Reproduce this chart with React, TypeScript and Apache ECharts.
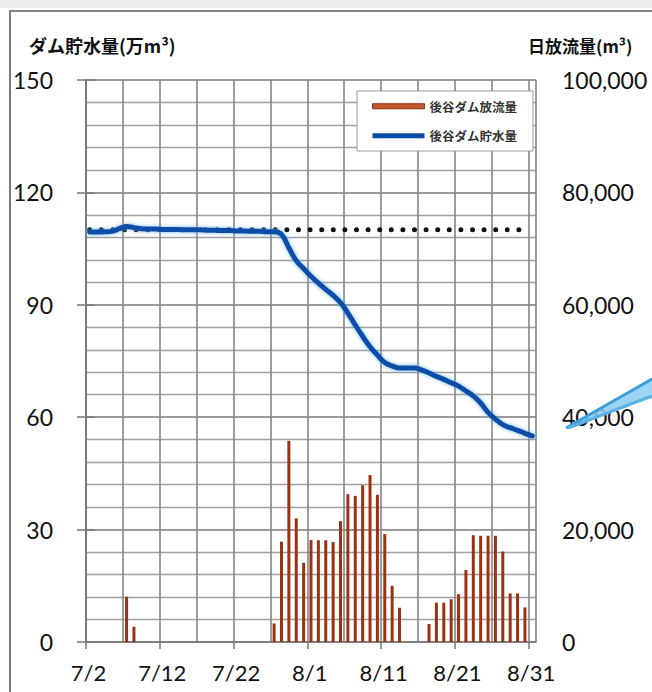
import React, { useEffect, useRef } from "react";
import * as echarts from "echarts";

// Day index 0 = 7/2 ... 60 = 8/31
const xTickLabels = ["7/2", "7/12", "7/22", "8/1", "8/11", "8/21", "8/31"];

// 後谷ダム貯水量 (万m³), one value per day 7/2 .. 8/31
const storage = [
  109.4, 109.4, 109.5, 109.6, 110.3, 110.9, 110.6, 110.3, 110.2, 110.2,
  110.1, 110.1, 110.1, 110.0, 110.0, 110.0, 109.9, 109.9, 109.8, 109.8,
  109.7, 109.7, 109.6, 109.6, 109.5, 109.5, 108.8, 105.2, 101.8, 99.7,
  97.6, 95.8, 94.1, 92.5, 90.6, 87.8, 84.6, 81.6, 78.8, 76.6,
  74.6, 73.7, 73.1, 73.1, 73.1, 72.6, 71.8, 70.9, 70.1, 69.2,
  68.3, 67.0, 65.7, 63.8, 61.3, 59.5, 58.0, 57.2, 56.5, 55.7,
  55.0,
];

// 後谷ダム放流量 (m³/day), one value per day 7/2 .. 8/31
const outflow = [
  0, 0, 0, 0, 0, 8050, 2700, 0, 0, 0,
  0, 0, 0, 0, 0, 0, 0, 0, 0, 0,
  0, 0, 0, 0, 0, 3300, 17850, 35800, 22000, 14100,
  18150, 18100, 18100, 17800, 21500, 26300, 26000, 27900, 29700, 26200,
  19200, 10000, 6100, 0, 0, 0, 3200, 7000, 7000, 7600,
  8500, 12800, 19000, 18900, 18900, 18900, 16100, 8650, 8650, 6150,
  0,
];

// Reference level (dotted line), 万m³
const referenceLevel = 110;
const referenceSpan = [0.5, 60];

const leftTitle = "ダム貯水量(万m³)";
const rightTitle = "日放流量(m³)";
const barName = "後谷ダム放流量";
const lineName = "後谷ダム貯水量";

const NUM_FONT = 'Lato, "Liberation Sans", sans-serif';
const JP_FONT = '"Noto Sans CJK JP", sans-serif';

export default function App() {
  const ref = useRef<HTMLDivElement>(null);

  useEffect(() => {
    const chart = echarts.init(ref.current!, null, { renderer: "svg" });

    const barData = outflow.map((v, k) => [k + 0.5, v]);
    const lineData = storage.map((v, k) => [k + 0.5, v]);
    const refData = referenceSpan.map((x) => [x, referenceLevel]);

    const option = {
      animation: false,
      backgroundColor: "#ffffff",
      grid: { left: 86, right: 116, top: 80, bottom: 50, containLabel: false },
      legend: {
        left: 357,
        top: 91,
        orient: "vertical",
        backgroundColor: "#ffffff",
        borderColor: "#9a9a9a",
        borderWidth: 1,
        padding: [9, 16, 9, 15],
        itemGap: 17,
        itemWidth: 52,
        itemHeight: 5,
        textStyle: { fontFamily: JP_FONT, fontSize: 12.5, fontWeight: "bold", color: "#333" },
        data: [
          { name: barName, icon: "rect", itemStyle: { color: "#c0582c", borderColor: "#8f2d10", borderWidth: 1 } },
          { name: lineName, icon: "rect", itemStyle: { color: "#0b4ea8", borderWidth: 0 } },
        ],
        z: 10,
      },
      xAxis: [
        {
          type: "value",
          min: 0,
          max: 61,
          interval: 10,
          position: "bottom",
          axisLine: { show: true, lineStyle: { color: "#777", width: 1.5 } },
          axisTick: { show: true, length: 7, lineStyle: { color: "#777", width: 1.5 } },
          axisLabel: {
            show: true,
            showMaxLabel: false,
            margin: 19,
            padding: [0, 0, 0, 5],
            fontFamily: NUM_FONT,
            fontSize: 22,
            color: "#111",
            formatter: (v: number) => (v % 10 === 0 && v / 10 < xTickLabels.length ? xTickLabels[v / 10] : ""),
          },
          splitLine: { show: false },
        },
        {
          type: "value",
          min: 0,
          max: 61,
          interval: 5,
          position: "bottom",
          axisLine: { show: false },
          axisTick: { show: false },
          axisLabel: { show: false },
          splitLine: { show: true, lineStyle: { color: "#858585", width: 1.6 } },
        },
      ],
      yAxis: [
        {
          type: "value",
          min: 0,
          max: 150,
          interval: 30,
          position: "left",
          axisLine: { show: true, lineStyle: { color: "#777", width: 1.5 } },
          axisTick: { show: true, length: 9, lineStyle: { color: "#777", width: 1.5 } },
          axisLabel: { margin: 33, fontFamily: NUM_FONT, fontSize: 23, color: "#111" },
          splitLine: { show: true, lineStyle: { color: "#7a7a7a", width: 1.7 } },
          minorTick: { show: false, splitNumber: 5 },
          minorSplitLine: { show: true, lineStyle: { color: "#a0a0a0", width: 1.3 } },
        },
        {
          type: "value",
          min: 0,
          max: 100000,
          interval: 20000,
          position: "right",
          axisLine: { show: true, lineStyle: { color: "#777", width: 1.5 } },
          axisTick: { show: true, length: 9, lineStyle: { color: "#777", width: 1.5 } },
          axisLabel: {
            margin: 26,
            fontFamily: NUM_FONT,
            fontSize: 23,
            color: "#111",
            formatter: (v: number) => v.toLocaleString("en-US"),
          },
          splitLine: { show: false },
        },
      ],
      series: [
        {
          name: barName,
          type: "bar",
          xAxisIndex: 0,
          yAxisIndex: 1,
          barWidth: 3,
          itemStyle: { color: "#9c3214" },
          data: barData,
          z: 2,
        },
        {
          name: "ref",
          type: "line",
          xAxisIndex: 0,
          yAxisIndex: 0,
          symbol: "none",
          lineStyle: { color: "#111", width: 5, type: [0, 11.6], cap: "round" },
          data: refData,
          z: 3,
        },
        {
          name: lineName,
          type: "line",
          xAxisIndex: 0,
          yAxisIndex: 0,
          symbol: "none",
          smooth: 0.45,
          lineStyle: {
            color: "#0b4ea8",
            width: 5,
            cap: "round",
            shadowColor: "rgba(90,170,235,0.85)",
            shadowBlur: 4,
          },
          data: lineData,
          z: 4,
        },
      ],
      graphic: [
        { type: "rect", shape: { x: 0, y: 0, width: 652, height: 8 }, style: { fill: "#eeeeee" }, z: 0, silent: true },
        {
          type: "rect",
          shape: { x: 10, y: 11, width: 700, height: 720 },
          style: { fill: "none", stroke: "#5a5a5a", lineWidth: 1.6 },
          z: 20,
          silent: true,
        },
        {
          type: "text",
          left: 29,
          top: 36,
          style: { text: leftTitle, fontFamily: JP_FONT, fontSize: 18, fontWeight: "bold", fill: "#111" },
          z: 20,
        },
        {
          type: "text",
          left: 528,
          top: 37,
          style: { text: rightTitle, fontFamily: JP_FONT, fontSize: 17, fontWeight: "bold", fill: "#111" },
          z: 20,
        },
        {
          type: "polygon",
          shape: { points: [[566, 428], [652, 378], [652, 398]] },
          style: { fill: "rgba(140,205,240,0.85)" },
          z: 20,
          silent: true,
        },
        {
          type: "line",
          shape: { x1: 566, y1: 428, x2: 652, y2: 379 },
          style: { stroke: "#3d9edc", lineWidth: 3 },
          z: 21,
          silent: true,
        },
        {
          type: "line",
          shape: { x1: 568, y1: 428, x2: 652, y2: 396 },
          style: { stroke: "#5ab0e4", lineWidth: 3 },
          z: 21,
          silent: true,
        },
      ],
    };

    chart.setOption(option as any);
    return () => chart.dispose();
  }, []);

  return (
    <div
      ref={ref}
      style={{ position: "absolute", left: 0, top: 0, width: 652, height: 692, background: "#fff" }}
    />
  );
}
